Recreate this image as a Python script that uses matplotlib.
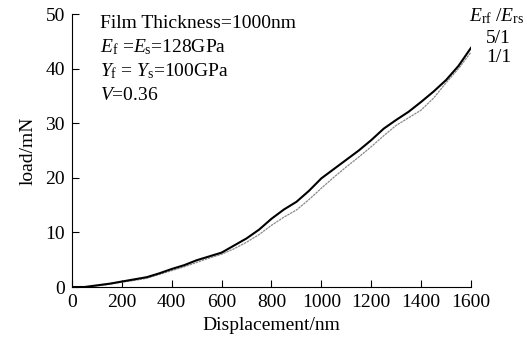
import matplotlib
matplotlib.use('Agg')
import matplotlib.pyplot as plt
import numpy as np

# displacement (nm) and load (mN)
disp = [0, 50, 100, 150, 200, 250, 300, 350, 400, 450, 500, 550, 600, 650, 700,
        750, 800, 850, 900, 950, 1000, 1050, 1100, 1150, 1200, 1250, 1300,
        1350, 1400, 1450, 1500, 1550, 1600]
load_5_1 = [0, 0, 0.3, 0.6, 1.0, 1.4, 1.8, 2.5, 3.3, 4.0, 4.9, 5.6, 6.3, 7.6, 8.9,
            10.5, 12.5, 14.2, 15.6, 17.6, 19.9, 21.6, 23.3, 25.0, 26.9, 29.0, 30.6,
            32.1, 33.9, 35.8, 37.9, 40.5, 43.8]
load_1_1 = [0, 0, 0.2, 0.5, 0.9, 1.2, 1.6, 2.3, 3.0, 3.7, 4.5, 5.3, 6.0, 7.0, 8.2,
            9.6, 11.3, 12.8, 14.1, 16.0, 18.1, 20.1, 22.0, 23.8, 25.7, 27.7, 29.6,
            31.0, 32.4, 34.6, 37.4, 40.0, 43.0]
xticks = [0, 200, 400, 600, 800, 1000, 1200, 1400, 1600]
yticks = [0, 10, 20, 30, 40, 50]


def main():
    plt.rcParams['font.family'] = 'Liberation Serif'
    plt.rcParams['mathtext.fontset'] = 'custom'
    plt.rcParams['mathtext.rm'] = 'Liberation Serif'
    plt.rcParams['mathtext.it'] = 'Liberation Serif:italic'
    fs = 14

    fig = plt.figure(figsize=(5.27, 3.46), dpi=100)
    ax = fig.add_axes([0.1366, 0.1705, 0.7571, 0.789])

    ax.plot(disp, load_1_1, color='#8a8a8a', lw=0.9, ls=(0, (2, 0.6)))
    ax.plot(disp, load_5_1, color='black', lw=1.5)

    ax.set_xlim(0, 1600)
    ax.set_ylim(0, 50)
    ax.set_xticks(xticks)
    ax.set_yticks(yticks)
    ax.tick_params(direction='in', length=5, width=0.8, labelsize=fs, pad=5)
    for s in ['top', 'right']:
        ax.spines[s].set_visible(False)
    ax.set_xlabel('Displacement/nm', fontsize=fs, labelpad=4)
    ax.set_ylabel('load/mN', fontsize=fs, labelpad=6)

    # parameter block
    lines = ['Film Thickness=1000nm',
             r'$E_{\rm f}$ =$E_{\rm s}$=128GPa',
             r'$Y_{\rm f}$ = $Y_{\rm s}$=100GPa',
             r'$V$=0.36']
    for i, t in enumerate(lines):
        fig.text(100 / 527, 1 - (28 + 24 * i) / 346, t, fontsize=fs,
                 ha='left', va='baseline')

    # curve labels
    fig.text(469 / 527, 1 - 21 / 346, r'$E_{\rm rf}$ /$E_{\rm rs}$',
             fontsize=fs, ha='left', va='baseline')
    fig.text(486 / 527, 1 - 43 / 346, '5/1', fontsize=fs, ha='left', va='baseline')
    fig.text(486 / 527, 1 - 62 / 346, '1/1', fontsize=fs, ha='left', va='baseline')

    fig.savefig('out.png', dpi=100)
    plt.close()


if __name__ == '__main__':
    main()
